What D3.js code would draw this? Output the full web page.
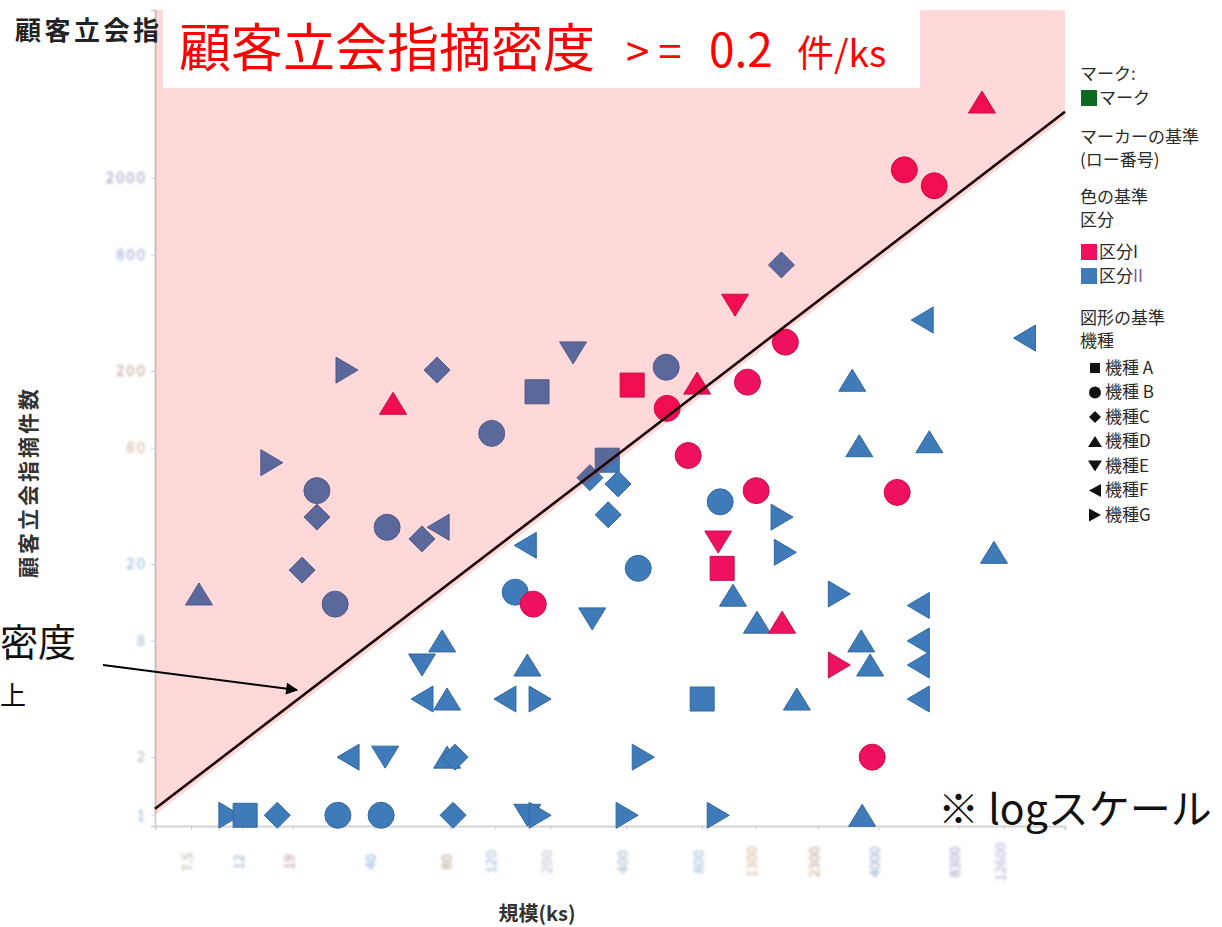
<!DOCTYPE html>
<html>
<head>
<meta charset="utf-8">
<script src="https://cdn.jsdelivr.net/npm/d3@7"></script>
<style>
  body { margin: 0; background: #fff; }
  svg { display: block; }
  text { font-family: "Noto Sans CJK JP", "Noto Sans", sans-serif; }
</style>
</head>
<body>
<svg id="chart" width="1222" height="927"></svg>
<script>
// 区分I : 規模(ks), 顧客立会指摘件数, 機種
const segI_size  = [10300, 5070, 6660, 1080, 1710, 422, 764, 1210, 47.5, 581, 704, 1310, 4750, 926, 960, 171, 1660, 2800, 3780];
const segI_count = [4940, 2200, 1820, 438, 282, 169, 173, 175, 136, 128, 73, 48, 47, 26, 19, 12.4, 10, 6, 2];
const segI_model = ["D", "B", "B", "E", "B", "A", "D", "B", "D", "B", "B", "B", "B", "E", "A", "B", "D", "G", "B"];

// 区分II : 規模(ks), 顧客立会指摘件数, 機種
const segII_size  = [31.2, 71.0, 246, 576, 177, 1650, 117, 15.7, 23.7, 23.7, 45.0, 71.7, 61.9, 20.7, 8.07, 28.0,
                     287, 336, 371, 339, 943, 1660, 1710, 446, 159, 145, 293, 1060, 1320, 2800, 5760,
                     3150, 3360, 6370, 11500, 5970, 15200, 3420, 3710, 5760, 5760, 5760, 1900, 800,
                     74.4, 61.9, 162, 61.9, 77.8, 132, 182, 31.5, 44.2, 77.8, 83.7, 467,
                     10.7, 12.3, 16.5, 28.7, 42.6, 82.2, 162, 182, 403, 926, 3450];
const segII_count = [202, 202, 248, 209, 156, 708, 95, 67, 48, 35, 31, 31, 27, 18.6, 14, 12.4,
                     56, 69, 52, 36, 42, 35, 23, 19, 25, 14.3, 10.4, 13.8, 10, 14, 12.2,
                     179, 82, 86, 23, 367, 296, 8, 6, 8, 6, 4, 4, 4,
                     8, 6, 6, 4, 4, 4, 4, 2, 2, 2, 2, 2,
                     1, 1, 1, 1, 1, 1, 1, 1, 1, 1, 1];
const segII_model = ["G", "C", "E", "B", "A", "C", "B", "G", "B", "C", "B", "F", "C", "C", "D", "B",
                     "C", "A", "C", "C", "B", "G", "G", "B", "F", "B", "E", "D", "D", "G", "F",
                     "D", "D", "D", "D", "F", "F", "D", "D", "F", "F", "F", "D", "A",
                     "D", "E", "D", "F", "D", "F", "G", "F", "E", "D", "C", "G",
                     "G", "A", "C", "B", "B", "C", "E", "G", "G", "G", "D"];

// axes (log scale)
const sizeDomain  = [5.4, 22000];
const countDomain = [0.88, 14800];
const sizeTicks  = [7.5, 12, 19, 40, 80, 120, 200, 400, 800, 1300, 2300, 4000, 8300, 12600];
const countTicks = [1, 2, 8, 20, 80, 200, 800, 2000];

// 顧客立会指摘密度のしきい値 (件/ks)
const densityThreshold = 0.2;

// legend
const segmentLabels = ["区分I", "区分II"];
const modelKeys   = ["A", "B", "C", "D", "E", "F", "G"];
const modelLabels = ["機種 A", "機種 B", "機種C", "機種D", "機種E", "機種F", "機種G"];

const segColor  = { I: "#ee1160", II: "#3f7bb8" };
const segStroke = { I: "#c80d50", II: "#33689f" };

const svg = d3.select("#chart");
const plot = { left: 155, right: 1065, top: 10, bottom: 826 };

const x = d3.scaleLog().domain(sizeDomain).range([plot.left, plot.right]);
const y = d3.scaleLog().domain(countDomain).range([plot.bottom, plot.top]);

// ---- defs ----
const defs = svg.append("defs");
defs.append("filter").attr("id", "smudge")
  .attr("x", "-30%").attr("y", "-30%").attr("width", "160%").attr("height", "160%")
  .append("feGaussianBlur").attr("stdDeviation", 1.5);
defs.append("marker").attr("id", "arrowHead")
  .attr("viewBox", "0 0 10 10").attr("refX", 9).attr("refY", 5)
  .attr("markerWidth", 7).attr("markerHeight", 6).attr("orient", "auto")
  .attr("markerUnits", "strokeWidth")
  .append("path").attr("d", "M0,0L10,5L0,10Z").attr("fill", "#000");

// ---- axes ----
const tint = ["#8c9a6c", "#6f86a6", "#9a6a7c", "#5a8ac0", "#8a7a5a", "#6f9ac8", "#9aa0a8",
              "#7c94b0", "#5f98cc", "#c09070", "#a07860", "#6a84c0", "#7070b0", "#8a90c0"];

const xAxis = svg.append("g").attr("transform", `translate(0,${plot.bottom})`)
  .call(d3.axisBottom(x).tickValues(sizeTicks).tickSize(4).tickFormat(d3.format("~g")));
xAxis.select(".domain").attr("stroke", "#d4d4d4").attr("stroke-width", 2);
xAxis.selectAll(".tick line").attr("stroke", "#d0d0d0");
xAxis.selectAll(".tick text")
  .attr("transform", "rotate(-90)").attr("x", -36).attr("y", -4).attr("dy", "0.35em")
  .attr("text-anchor", "middle")
  .style("font-size", "14px").attr("fill", (d, i) => tint[i % tint.length])
  .attr("opacity", 0.75).attr("filter", "url(#smudge)");

const yAxis = svg.append("g").attr("transform", `translate(${plot.left},0)`)
  .call(d3.axisLeft(y).tickValues(countTicks).tickSize(4).tickFormat(d3.format("~g")));
yAxis.select(".domain").attr("stroke", "#d4d4d4").attr("stroke-width", 2);
yAxis.selectAll(".tick line").attr("stroke", "#d0d0d0");
yAxis.selectAll(".tick text")
  .attr("x", -8).style("font-size", "15px").attr("letter-spacing", "2")
  .attr("fill", (d, i) => tint[(i + 5) % tint.length])
  .attr("opacity", 0.75).attr("filter", "url(#smudge)");

// ---- marker shapes ----
function shapePath(m) {
  switch (m) {
    case "A": return "M-12,-12H12V12H-12Z";
    case "B": return d3.symbol(d3.symbolCircle, Math.PI * 13 * 13)();
    case "C": return "M0,-13L13,0L0,13L-13,0Z";
    case "D": return "M0,-11L13.5,11L-13.5,11Z";
    case "E": return "M0,11L13.5,-11L-13.5,-11Z";
    case "F": return "M-11,0L11,-13L11,13Z";
    case "G": return "M11,0L-11,-13L-11,13Z";
  }
}

const rows = [];
segII_size.forEach((s, i) => rows.push({ seg: "II", size: s, count: segII_count[i], model: segII_model[i] }));
segI_size.forEach((s, i) => rows.push({ seg: "I", size: s, count: segI_count[i], model: segI_model[i] }));

svg.append("g").selectAll("path").data(rows).join("path")
  .attr("transform", d => `translate(${x(d.size)},${y(d.count)})`)
  .attr("d", d => shapePath(d.model))
  .attr("fill", d => segColor[d.seg])
  .attr("stroke", d => segStroke[d.seg])
  .attr("stroke-width", 1);

// ---- density threshold region (count >= 0.2 * size) ----
const x0 = sizeDomain[0], x1 = sizeDomain[1];
const band = 6;
const region = [
  [x(x0), plot.top],
  [x(x1), plot.top],
  [x(x1), y(densityThreshold * x1) + band],
  [x(x0), y(densityThreshold * x0) + band]
];
svg.append("path")
  .attr("d", d3.line()(region) + "Z")
  .attr("fill", "rgba(255,0,0,0.15)");

svg.append("line")
  .attr("x1", x(x0)).attr("y1", y(densityThreshold * x0))
  .attr("x2", x(x1)).attr("y2", y(densityThreshold * x1))
  .attr("stroke", "#1c0505").attr("stroke-width", 2.6);

// ---- headline ----
svg.append("text").attr("x", 15).attr("y", 40)
  .style("font-size", "26px").style("font-weight", "bold").attr("letter-spacing", "3.5").attr("fill", "#222")
  .text("顧客立会指");

svg.append("rect").attr("x", 163).attr("y", 0).attr("width", 757).attr("height", 88).attr("fill", "#fff");

const head = svg.append("text").attr("y", 67).attr("fill", "#ff0000");
head.append("tspan").attr("x", 179).style("font-size", "52px").text("顧客立会指摘密度");
head.append("tspan").attr("x", 626).style("font-size", "42px").attr("letter-spacing", "9").text(">=");
head.append("tspan").attr("x", 709).style("font-size", "46px").text(String(densityThreshold));
head.append("tspan").attr("x", 797).style("font-size", "37px").text("件/ks");

// ---- annotations ----
svg.append("text").attr("x", 0).attr("y", 656).style("font-size", "38px").attr("fill", "#111").text("密度");
svg.append("text").attr("x", 0).attr("y", 705).style("font-size", "26px").attr("fill", "#111").text("上");
svg.append("line")
  .attr("x1", 103).attr("y1", 665).attr("x2", 297).attr("y2", 690)
  .attr("stroke", "#000").attr("stroke-width", 2)
  .attr("marker-end", "url(#arrowHead)");

svg.append("text").attr("x", 938).attr("y", 824).style("font-size", "41px").attr("fill", "#111")
  .text("※ logスケール");

// ---- axis titles ----
svg.append("text").attr("x", 537).attr("y", 921).attr("text-anchor", "middle")
  .style("font-size", "20px").style("font-weight", "bold").attr("fill", "#333")
  .text("規模(ks)");
svg.append("text").attr("transform", "translate(36,482) rotate(-90)").attr("text-anchor", "middle")
  .style("font-size", "21px").style("font-weight", "bold").attr("letter-spacing", "3").attr("fill", "#333")
  .text("顧客立会指摘件数");

// ---- legend ----
const lg = svg.append("g").style("font-size", "17px").attr("fill", "#2a2a2a");
const lx = 1080;
function legendText(t, yy, xx) {
  return lg.append("text").attr("x", xx || lx).attr("y", yy).attr("dy", "0.35em").text(t);
}
legendText("マーク:", 74);
lg.append("rect").attr("x", lx + 1).attr("y", 90).attr("width", 16).attr("height", 16).attr("fill", "#0b6a1f");
legendText("マーク", 98, lx + 19);
legendText("マーカーの基準", 137);
legendText("(ロー番号)", 160);
legendText("色の基準", 197);
legendText("区分", 220);

const segKeys = ["I", "II"];
segKeys.forEach((k, i) => {
  const yy = 252 + i * 24;
  lg.append("rect").attr("x", lx + 1).attr("y", yy - 8).attr("width", 16).attr("height", 16)
    .attr("fill", segColor[k]);
  const t = legendText("", yy, lx + 19);
  const label = segmentLabels[i];
  t.append("tspan").text(label.slice(0, 2));
  t.append("tspan").attr("fill", k === "II" ? "#8452ad" : "#2a2a2a").text(label.slice(2));
});

legendText("図形の基準", 318);
legendText("機種", 341);
const mini = {
  A: "M-5,-5H5V5H-5Z",
  B: d3.symbol(d3.symbolCircle, Math.PI * 6 * 6)(),
  C: "M0,-6L6,0L0,6L-6,0Z",
  D: "M0,-5.5L7,5.5L-7,5.5Z",
  E: "M0,5.5L7,-5.5L-7,-5.5Z",
  F: "M-6,0L6,-6.5L6,6.5Z",
  G: "M6,0L-6,-6.5L-6,6.5Z"
};
modelKeys.forEach((k, i) => {
  const yy = 368 + i * 24.5;
  lg.append("path").attr("transform", `translate(${lx + 15},${yy})`).attr("d", mini[k]).attr("fill", "#111");
  legendText(modelLabels[i], yy, lx + 25);
});
</script>
</body>
</html>
